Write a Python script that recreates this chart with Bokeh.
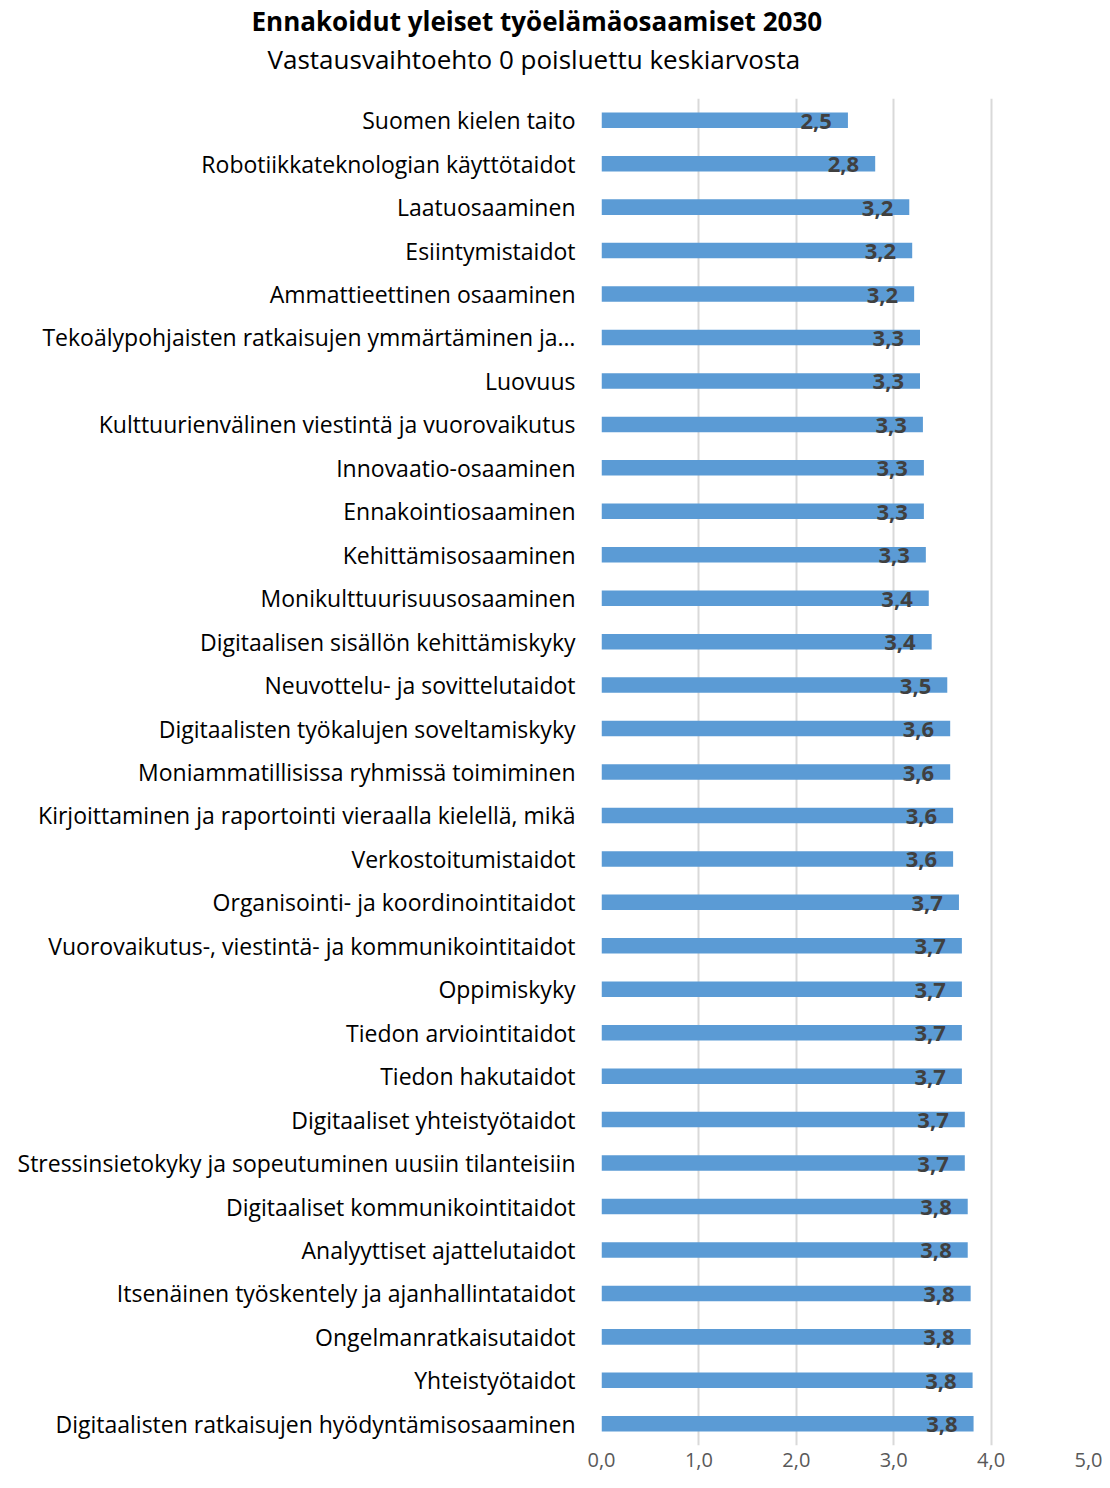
from bokeh.plotting import figure
from bokeh.models import ColumnDataSource, FactorRange, Range1d, FixedTicker, Title, LabelSet
from bokeh.core.properties import value
from bokeh.embed import file_html
from bokeh.resources import INLINE

title_text = "Ennakoidut yleiset työelämäosaamiset 2030"
subtitle_text = "Vastausvaihtoehto 0 poisluettu keskiarvosta"

categories = [
    "Suomen kielen taito",
    "Robotiikkateknologian käyttötaidot",
    "Laatuosaaminen",
    "Esiintymistaidot",
    "Ammattieettinen osaaminen",
    "Tekoälypohjaisten ratkaisujen ymmärtäminen ja…",
    "Luovuus",
    "Kulttuurienvälinen viestintä ja vuorovaikutus",
    "Innovaatio-osaaminen",
    "Ennakointiosaaminen",
    "Kehittämisosaaminen",
    "Monikulttuurisuusosaaminen",
    "Digitaalisen sisällön kehittämiskyky",
    "Neuvottelu- ja sovittelutaidot",
    "Digitaalisten työkalujen soveltamiskyky",
    "Moniammatillisissa ryhmissä toimiminen",
    "Kirjoittaminen ja raportointi vieraalla kielellä, mikä",
    "Verkostoitumistaidot",
    "Organisointi- ja koordinointitaidot",
    "Vuorovaikutus-, viestintä- ja kommunikointitaidot",
    "Oppimiskyky",
    "Tiedon arviointitaidot",
    "Tiedon hakutaidot",
    "Digitaaliset yhteistyötaidot",
    "Stressinsietokyky ja sopeutuminen uusiin tilanteisiin",
    "Digitaaliset kommunikointitaidot",
    "Analyyttiset ajattelutaidot",
    "Itsenäinen työskentely ja ajanhallintataidot",
    "Ongelmanratkaisutaidot",
    "Yhteistyötaidot",
    "Digitaalisten ratkaisujen hyödyntämisosaaminen",
]

values = [
    2.53, 2.81, 3.16, 3.19, 3.21, 3.27, 3.27, 3.30, 3.31, 3.31, 3.33,
    3.36, 3.39, 3.55, 3.58, 3.58, 3.61, 3.61, 3.67, 3.70, 3.70, 3.70,
    3.70, 3.73, 3.73, 3.76, 3.76, 3.79, 3.79, 3.81, 3.82,
]

x_ticks = [0, 1, 2, 3, 4, 5]
x_tick_labels = ["0,0", "1,0", "2,0", "3,0", "4,0", "5,0"]

value_labels = [f"{v:.1f}".replace(".", ",") for v in values]

source = ColumnDataSource(dict(cat=categories, val=values, lab=value_labels))

FONT = "Open Sans"

p = figure(
    width=1102, height=1480,
    y_range=FactorRange(factors=list(reversed(categories))),
    x_range=Range1d(0, 5),
    output_backend="svg", toolbar_location=None,
    min_border_left=601, min_border_right=14,
    min_border_top=98, min_border_bottom=35,
)

# spacer between frame and subtitle
p.add_layout(Title(text=" ", text_font_size="1px", standoff=19), "above")
p.add_layout(Title(text=subtitle_text, align="left", offset=-334, text_font=FONT,
                   text_font_size="26px", text_font_style="normal",
                   text_color="#000000", standoff=0), "above")
p.add_layout(Title(text=title_text, align="left", offset=-350, text_font=FONT,
                   text_font_size="26px", text_font_style="bold",
                   text_color="#000000", standoff=0), "above")

p.hbar(y="cat", right="val", left=0, height=0.357, source=source,
       fill_color="#5B9BD5", line_color=None)

labels = LabelSet(x="val", y="cat", text="lab", source=source,
                  text_align="right", text_baseline="middle",
                  x_offset=-16, y_offset=-1,
                  text_font=value(FONT), text_font_style="bold",
                  text_font_size="22px", text_color="#404040")
p.add_layout(labels)

p.outline_line_color = None
p.ygrid.grid_line_color = None
p.xgrid.grid_line_color = "#D9D9D9"
p.xgrid.grid_line_width = 2
p.xgrid.ticker = FixedTicker(ticks=x_ticks)

p.xaxis.ticker = FixedTicker(ticks=x_ticks)
p.xaxis.major_label_overrides = {t: l for t, l in zip(x_ticks, x_tick_labels)}
p.xaxis.axis_line_color = None
p.xaxis.major_tick_line_color = None
p.xaxis.minor_tick_line_color = None
p.xaxis.major_tick_out = 0
p.xaxis.major_tick_in = 0
p.xaxis.minor_tick_out = 0
p.xaxis.major_label_text_font = FONT
p.xaxis.major_label_text_font_size = "20px"
p.xaxis.major_label_text_color = "#595959"
p.xaxis.major_label_standoff = 7

p.yaxis.axis_line_color = None
p.yaxis.major_tick_line_color = None
p.yaxis.minor_tick_line_color = None
p.yaxis.major_tick_out = 0
p.yaxis.major_tick_in = 0
p.yaxis.major_label_text_font = FONT
p.yaxis.major_label_text_font_size = "23px"
p.yaxis.major_label_text_color = "#000000"
p.yaxis.major_label_standoff = 26

open("out.html", "w").write(file_html(p, INLINE))
